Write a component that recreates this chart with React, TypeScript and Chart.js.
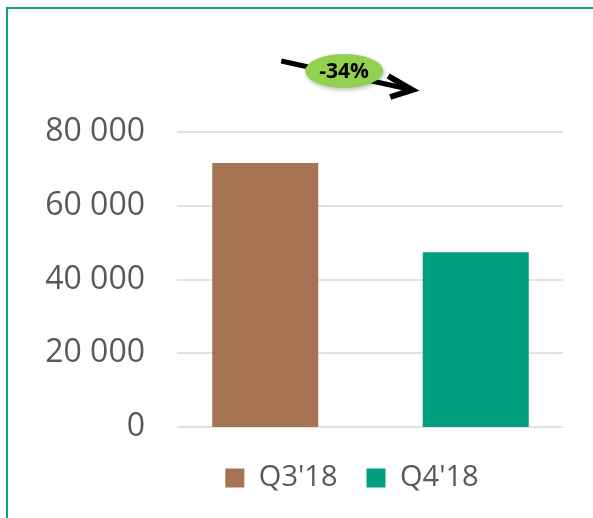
import React, { useEffect, useRef } from "react";
import { Chart, registerables } from "chart.js";

Chart.register(...registerables);

const categories = ["Q3'18", "Q4'18"];
const seriesLabels = ["Q3'18", "Q4'18"];
const q3Values = [71600, null];
const q4Values = [null, 47400];
const yTicks = [0, 20000, 40000, 60000, 80000];
const colors = ["#a67452", "#02a07e"];

const FONT = "'Open Sans', 'Noto Sans', sans-serif";

function fmt(v: number) {
  return String(v).replace(/\B(?=(\d{3})+(?!\d))/g, " ");
}

const gridPlugin = {
  id: "customGrid",
  beforeDatasetsDraw(chart: any) {
    const { ctx, chartArea, scales } = chart;
    const y = scales.y;
    ctx.save();
    ctx.strokeStyle = "#d9d9d9";
    ctx.lineWidth = 1.5;
    yTicks.forEach((t) => {
      const py = Math.round(y.getPixelForValue(t));
      ctx.beginPath();
      ctx.moveTo(chartArea.left + 17, py);
      ctx.lineTo(chartArea.right - 18, py);
      ctx.stroke();
    });
    ctx.restore();
  },
};

const legendShiftPlugin = {
  id: "legendShift",
  afterLayout(chart: any) {
    const lg = chart.legend;
    if (!lg) return;
    const targetCenter = 352;
    const cur = (lg.left + lg.right) / 2;
    const d = targetCenter - cur;
    lg.left += d;
    lg.right += d;
  },
};

const annotationPlugin = {
  id: "changeAnnotation",
  afterDraw(chart: any) {
    const { ctx, chartArea, scales } = chart;
    const x0 = scales.x.getPixelForValue(0);
    const x1 = scales.x.getPixelForValue(1);
    const span = x1 - x0;
    const top = chartArea.top;
    const a = q3Values[0] as number;
    const b = q4Values[1] as number;
    const pct = Math.round(((b - a) / a) * 100);
    const sx = x0 + 0.076 * span;
    const sy = top - 71;
    const tx = x0 + 0.698 * span;
    const ty = top - 42;
    ctx.save();
    ctx.strokeStyle = "#000";
    ctx.lineWidth = 5;
    ctx.lineCap = "butt";
    ctx.beginPath();
    ctx.moveTo(sx, sy);
    ctx.lineTo(tx - 4, ty - 1);
    ctx.stroke();
    ctx.lineWidth = 6;
    ctx.lineJoin = "miter";
    ctx.beginPath();
    ctx.moveTo(tx - 24, ty - 14);
    ctx.lineTo(tx, ty);
    ctx.lineTo(tx - 22, ty + 7);
    ctx.stroke();
    const cx = x0 + 0.375 * span;
    const cy = top - 61;
    ctx.shadowColor = "rgba(0,0,0,0.25)";
    ctx.shadowBlur = 4;
    ctx.shadowOffsetX = 1;
    ctx.shadowOffsetY = 2;
    ctx.fillStyle = "#92d050";
    ctx.beginPath();
    ctx.ellipse(cx, cy, 39, 17, 0, 0, Math.PI * 2);
    ctx.fill();
    ctx.shadowColor = "transparent";
    ctx.fillStyle = "#000";
    ctx.font = "bold 21px " + FONT;
    ctx.textAlign = "center";
    ctx.textBaseline = "middle";
    ctx.fillText(pct + "%", cx, cy + 1);
    ctx.restore();
  },
};

export default function App() {
  const ref = useRef<HTMLCanvasElement | null>(null);
  useEffect(() => {
    if (!ref.current) return;
    const chart = new Chart(ref.current, {
      type: "bar",
      data: {
        labels: categories,
        datasets: [
          {
            label: seriesLabels[0],
            data: q3Values,
            backgroundColor: colors[0],
            grouped: false,
            barPercentage: 0.5036,
            categoryPercentage: 1,
          },
          {
            label: seriesLabels[1],
            data: q4Values,
            backgroundColor: colors[1],
            grouped: false,
            barPercentage: 0.5036,
            categoryPercentage: 1,
          },
        ] as any,
      },
      options: {
        responsive: false,
        animation: false,
        layout: { padding: { left: 8, right: 12, top: 132, bottom: 15.5 } },
        plugins: {
          tooltip: { enabled: false },
          legend: {
            position: "bottom",
            labels: {
              boxWidth: 19,
              boxHeight: 19,
              padding: 29,
              color: "#595959",
              font: { family: FONT, size: 29 },
            },
          },
        },
        scales: {
          x: {
            grid: { display: false },
            border: { display: false },
            ticks: { display: false },
            afterFit(s: any) {
              s.height = 7.5;
            },
          },
          y: {
            min: 0,
            max: 80000,
            grid: { display: false },
            border: { display: false },
            afterFit(s: any) {
              s.width = 152;
            },
            ticks: {
              stepSize: 20000,
              padding: 7,
              color: "#595959",
              font: { family: FONT, size: 32 },
              callback: (v: any) => fmt(Number(v)),
            },
          },
        },
      },
      plugins: [gridPlugin, legendShiftPlugin, annotationPlugin],
    });
    return () => chart.destroy();
  }, []);
  return (
    <div style={{ position: "absolute", left: 0, top: 0, width: 593, height: 518, overflow: "hidden", background: "#fff" }}>
      <div
        style={{
          position: "absolute",
          left: 6,
          top: 7,
          width: 620,
          height: 540,
          borderTop: "2px solid #10a083",
          borderLeft: "2px solid #10a083",
        }}
      />
      <canvas ref={ref} width={593} height={518} style={{ position: "absolute", left: 0, top: 0 }} />
    </div>
  );
}
